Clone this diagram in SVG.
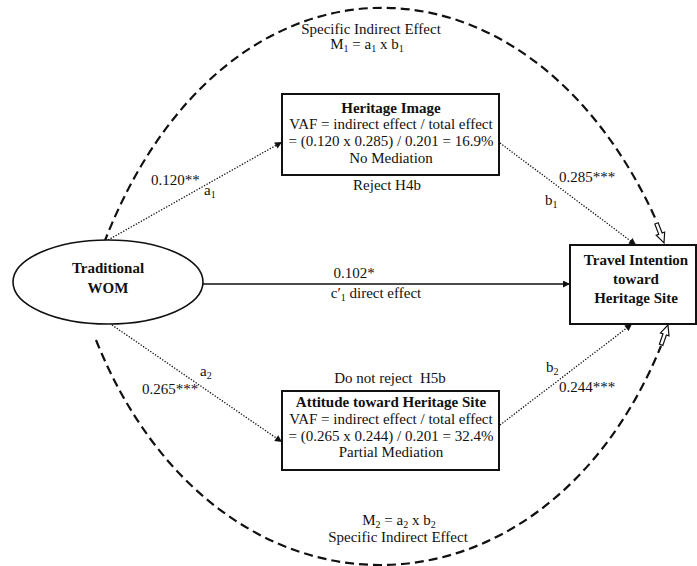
<svg xmlns="http://www.w3.org/2000/svg" width="697" height="566" viewBox="0 0 697 566">
  <style>
    text { font-family: "Liberation Serif", "Times New Roman", serif; font-size: 15px; fill: #111; }
    .b { font-weight: bold; }
    .m { text-anchor: middle; }
    .sub { font-size: 10px; }
    .box { fill: #fff; stroke: #111; stroke-width: 2; }
    .oval { fill: #fff; stroke: #111; stroke-width: 1.6; }
    .dot { fill: none; stroke: #111; stroke-width: 1.3; stroke-dasharray: 1.3 1.6; }
    .solid { fill: none; stroke: #111; stroke-width: 1.6; }
    .dash { fill: none; stroke: #111; stroke-width: 2.2; stroke-dasharray: 9 5; }
    .hollow { fill: #fff; stroke: #111; stroke-width: 1.2; stroke-linejoin: miter; }
  </style>
  <defs>
    <marker id="head" viewBox="0 0 10 10" refX="10" refY="5" markerWidth="9" markerHeight="7" markerUnits="userSpaceOnUse" orient="auto">
      <path d="M0,0 L10,5 L0,10 Z" fill="#111"/>
    </marker>
    <!-- open block arrow pointing along +y, tip at (0,21) -->
    <polygon id="blockArrow" points="-1.8,0 1.8,0 1.8,11 4.5,11 0,21 -4.5,11 -1.8,11"/>
  </defs>

  <rect width="697" height="566" fill="#fff"/>

  <g id="connectors">
    <!-- indirect-effect arcs -->
    <path class="dash" d="M104,243 C224,-67 527,-67 657,222"/>
    <use href="#blockArrow" class="hollow" transform="translate(656.5,223.4) rotate(-21)"/>
    <path class="dash" d="M96,340 C216,639 541,639 661,346"/>
    <use href="#blockArrow" class="hollow" transform="translate(661.1,344.8) rotate(-160.8)"/>

    <!-- paths through the mediators -->
    <line class="dot" x1="108" y1="240" x2="282" y2="142" marker-end="url(#head)"/>
    <line class="dot" x1="500" y1="143" x2="636" y2="245" marker-end="url(#head)"/>
    <line class="dot" x1="112" y1="325" x2="282" y2="442" marker-end="url(#head)"/>
    <line class="dot" x1="500" y1="425" x2="632" y2="324" marker-end="url(#head)"/>

    <!-- direct effect -->
    <line class="solid" x1="203" y1="284" x2="570" y2="284" marker-end="url(#head)"/>
  </g>

  <g id="wom">
    <ellipse class="oval" cx="108" cy="282" rx="95" ry="42"/>
    <text class="b m" x="108" y="273">Traditional</text>
    <text class="b m" x="108" y="293">WOM</text>
  </g>

  <g id="heritage-image">
    <rect class="box" x="282" y="94" width="217" height="81"/>
    <text class="b m" x="391" y="113">Heritage Image</text>
    <text class="m" x="391" y="129">VAF = indirect effect / total effect</text>
    <text class="m" x="391" y="146">= (0.120 x 0.285) / 0.201 = 16.9%</text>
    <text class="m" x="391" y="163">No Mediation</text>
  </g>

  <g id="attitude">
    <rect class="box" x="282" y="391" width="217" height="79"/>
    <text class="b m" x="391" y="407">Attitude toward Heritage Site</text>
    <text class="m" x="391" y="424">VAF = indirect effect / total effect</text>
    <text class="m" x="391" y="441">= (0.265 x 0.244) / 0.201 = 32.4%</text>
    <text class="m" x="391" y="457">Partial Mediation</text>
  </g>

  <g id="travel-intention">
    <rect class="box" x="570" y="245" width="126" height="79"/>
    <text class="b m" x="636" y="265">Travel Intention</text>
    <text class="b m" x="636" y="284">toward</text>
    <text class="b m" x="636" y="303">Heritage Site</text>
  </g>

  <g id="labels">
    <text class="m" x="371" y="34">Specific Indirect Effect</text>
    <text class="m" x="367" y="49">M<tspan class="sub" dy="3">1</tspan><tspan dy="-3"> = a</tspan><tspan class="sub" dy="3">1</tspan><tspan dy="-3"> x b</tspan><tspan class="sub" dy="3">1</tspan></text>

    <text class="m" x="387" y="190">Reject H4b</text>
    <text x="151" y="185">0.120**</text>
    <text x="204" y="195">a<tspan class="sub" dy="3">1</tspan></text>
    <text x="559" y="182">0.285***</text>
    <text x="545" y="205">b<tspan class="sub" dy="3">1</tspan></text>

    <text class="m" x="354" y="278">0.102*</text>
    <text class="m" x="376" y="298">c′<tspan class="sub" dy="3">1</tspan><tspan dy="-3"> direct effect</tspan></text>

    <text x="200" y="376">a<tspan class="sub" dy="3">2</tspan></text>
    <text x="142" y="394">0.265***</text>
    <text class="m" x="390" y="383" xml:space="preserve">Do not reject  H5b</text>
    <text x="546" y="372">b<tspan class="sub" dy="3">2</tspan></text>
    <text x="559" y="392">0.244***</text>

    <text class="m" x="399" y="525">M<tspan class="sub" dy="3">2</tspan><tspan dy="-3"> = a</tspan><tspan class="sub" dy="3">2</tspan><tspan dy="-3"> x b</tspan><tspan class="sub" dy="3">2</tspan></text>
    <text class="m" x="398" y="542">Specific Indirect Effect</text>
  </g>
</svg>
